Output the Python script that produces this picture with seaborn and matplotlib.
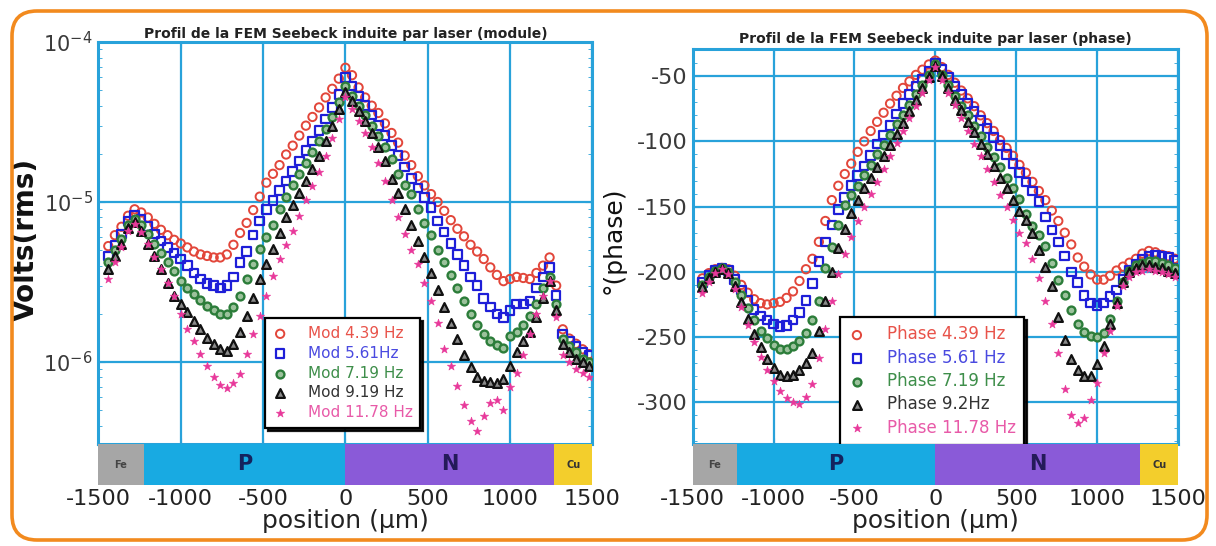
import numpy as np
import matplotlib
matplotlib.use("Agg")
import matplotlib.pyplot as plt
import seaborn as sns
from matplotlib.patches import FancyBboxPatch
from matplotlib.ticker import LogLocator, MultipleLocator, NullFormatter

sns.set_style("white")
plt.rcParams['font.family'] = ['DejaVu Sans']
plt.rcParams['mathtext.fontset'] = 'dejavusans'
plt.rcParams['axes.unicode_minus'] = False

# ---------------- data ----------------
positions = [-1440, -1400, -1360, -1320, -1280, -1240, -1200, -1160, -1120, -1080,
             -1040, -1000, -960, -920, -880, -840, -800, -760, -720, -680,
             -640, -600, -560, -520, -480, -440, -400, -360, -320, -280,
             -240, -200, -160, -120, -80, -40, 0,
             40, 80, 120, 160, 200, 240, 280, 320, 360, 400,
             440, 480, 520, 560, 600, 640, 680, 720, 760, 800,
             840, 880, 920, 960, 1000, 1040, 1080, 1120, 1160, 1200,
             1240, 1280, 1320, 1360, 1400, 1440, 1480]

# module, in microvolts
mod_439 = [5.3, 6.2, 7.0, 8.2, 9.0, 8.6, 8.0, 7.3, 6.7, 6.2, 5.8, 5.5, 5.2, 4.9, 4.7, 4.6, 4.5, 4.5, 4.7, 5.4,
           6.4, 7.4, 8.9, 10.8, 13.2, 15, 17, 19.8, 22.5, 26, 30, 34, 39, 45, 51, 59, 69,
           62, 52, 45, 40, 36, 31, 27, 23.5, 19.5, 17, 14.5, 12.7, 11.2, 10, 8.8, 7.7, 6.8, 6.1, 5.4, 4.9,
           4.4, 3.9, 3.5, 3.2, 3.3, 3.4, 3.35, 3.3, 3.6, 4.0, 4.5, 3.0, 1.6, 1.4, 1.3, 1.2, 1.12]
mod_561 = [4.6, 5.4, 6.3, 7.6, 8.3, 7.8, 7.0, 6.3, 5.7, 5.2, 4.8, 4.4, 4.0, 3.6, 3.3, 3.1, 3.0, 2.9, 3.0, 3.4,
           4.2, 4.9, 6.2, 7.6, 9.0, 10.2, 11.8, 13.5, 15.5, 18, 21, 24, 28, 33, 39, 47, 60,
           53, 46, 40, 35, 30, 26, 22.5, 19.5, 16.5, 14, 12.2, 10.7, 9.2, 7.6, 6.5, 5.5, 4.7, 4.0, 3.4, 3.0,
           2.5, 2.2, 2.0, 1.9, 2.1, 2.3, 2.3, 2.4, 2.9, 3.4, 3.9, 2.6, 1.5, 1.35, 1.25, 1.15, 1.1]
mod_719 = [4.2, 5.0, 5.9, 7.2, 7.8, 7.2, 6.3, 5.5, 4.8, 4.2, 3.7, 3.2, 2.9, 2.65, 2.45, 2.25, 2.1, 2.0, 2.0, 2.2,
           2.6, 3.3, 4.1, 5.1, 6.0, 7.2, 9.0, 10.8, 12.8, 15, 17.5, 20.5, 24, 28.5, 34, 42, 53,
           46, 40, 35, 30, 26, 22, 18.5, 15, 12.8, 11.2, 9.0, 7.4, 6.2, 5.0, 4.2, 3.5, 2.9, 2.4, 2.0, 1.7,
           1.5, 1.36, 1.28, 1.22, 1.45, 1.55, 1.7, 1.95, 2.3, 2.9, 3.4, 2.3, 1.4, 1.25, 1.15, 1.05, 1.0]
mod_919 = [3.8, 4.6, 5.5, 6.9, 7.5, 6.6, 5.5, 4.6, 3.8, 3.1, 2.6, 2.3, 2.05, 1.8, 1.6, 1.42, 1.3, 1.2, 1.17, 1.3,
           1.55, 1.95, 2.5, 3.3, 4.1, 5.1, 6.4, 8.1, 9.6, 11.4, 13.5, 16, 19.5, 24, 30, 38, 49,
           43, 37, 32, 27, 22, 18, 14, 11.3, 9.0, 7.2, 5.7, 4.5, 3.6, 2.8, 2.2, 1.75, 1.4, 1.1, 0.93, 0.8,
           0.76, 0.75, 0.74, 0.78, 0.95, 1.15, 1.35, 1.55, 1.9, 2.5, 3.2, 2.1, 1.3, 1.15, 1.05, 1.0, 0.95]
mod_1178 = [3.3, 4.2, 5.2, 6.6, 7.3, 6.5, 5.5, 4.5, 3.8, 3.1, 2.6, 2.0, 1.6, 1.35, 1.12, 0.95, 0.8, 0.72, 0.69, 0.74,
            0.84, 1.12, 1.5, 1.95, 2.6, 3.45, 4.4, 5.4, 6.6, 8.2, 10.3, 12.5, 15.5, 19.5, 25, 33, 45,
            38, 32, 27, 22, 17.5, 13.5, 10.3, 8.0, 6.3, 5.0, 4.1, 3.1, 2.4, 1.75, 1.2, 0.95, 0.71, 0.54, 0.43, 0.37,
            0.46, 0.55, 0.58, 0.5, 0.7, 0.85, 1.1, 1.5, 2.0, 2.6, 3.2, 1.9, 1.1, 1.0, 0.9, 0.85, 0.8]

# phase, in degrees
ph_439 = [-205, -201, -198, -197, -198, -203, -210, -216, -221, -224, -225, -224, -223, -220, -215, -207, -198, -190, -177, -161,
          -145, -134, -125, -117, -108, -100, -92, -85, -78, -71, -65, -59, -54, -49, -45, -41, -38,
          -43, -49, -55, -61, -67, -73, -80, -86, -92, -99, -105, -111, -118, -124, -131, -138, -145, -153, -161, -170,
          -179, -189, -196, -202, -206, -206, -203, -199, -196, -193, -190, -186, -184, -185, -187, -188, -190]
ph_561 = [-208, -203, -199, -197, -199, -206, -214, -222, -229, -234, -237, -240, -242, -241, -237, -231, -222, -209, -192, -177,
          -164, -152, -143, -134, -126, -119, -111, -102, -95, -88, -79, -71, -64, -58, -52, -46, -40,
          -45, -51, -58, -64, -71, -77, -84, -90, -97, -103, -110, -117, -124, -131, -138, -146, -158, -168, -177, -188,
          -200, -208, -218, -224, -226, -224, -219, -214, -206, -199, -194, -190, -188, -187, -188, -189, -191]
ph_719 = [-210, -204, -199, -197, -200, -208, -218, -228, -237, -245, -251, -256, -259, -259, -257, -253, -247, -237, -222, -197,
          -181, -164, -149, -141, -134, -126, -118, -110, -103, -95, -87, -80, -72, -64, -57, -49, -41,
          -49, -57, -65, -73, -80, -88, -96, -104, -112, -120, -128, -136, -144, -156, -165, -172, -180, -193, -206, -218,
          -229, -240, -246, -249, -250, -247, -236, -222, -208, -199, -195, -193, -192, -192, -193, -195, -197]
ph_92 = [-212, -205, -200, -198, -201, -211, -223, -236, -248, -258, -267, -274, -279, -280, -279, -275, -270, -262, -245, -222,
         -200, -182, -167, -155, -145, -136, -128, -120, -111, -103, -94, -86, -77, -68, -59, -51, -42,
         -50, -59, -68, -76, -85, -93, -102, -110, -119, -128, -136, -145, -153, -160, -170, -183, -196, -211, -235, -252,
         -267, -275, -280, -280, -271, -257, -240, -224, -208, -200, -197, -195, -195, -196, -197, -199, -201]
ph_1178 = [-216, -208, -201, -198, -202, -213, -227, -241, -254, -265, -275, -284, -291, -297, -300, -301, -296, -286, -266, -244,
           -222, -202, -186, -173, -161, -150, -140, -131, -121, -111, -101, -92, -82, -73, -63, -53, -43,
           -53, -63, -72, -82, -92, -102, -111, -121, -131, -141, -150, -160, -170, -178, -190, -205, -222, -240, -262, -290,
           -310, -316, -312, -298, -285, -262, -245, -226, -211, -204, -200, -199, -198, -199, -200, -202, -204]

mod_labels = ["Mod 4.39 Hz", "Mod 5.61Hz", "Mod 7.19 Hz", "Mod 9.19 Hz", "Mod 11.78 Hz"]
phase_labels = ["Phase 4.39 Hz", "Phase 5.61 Hz", "Phase 7.19 Hz", "Phase 9.2Hz", "Phase 11.78 Hz"]

band_names = ["Fe", "P", "N", "Cu"]
band_edges = [-1500, -1226, 0, 1268, 1500]
x_ticks = [-1500, -1000, -500, 0, 500, 1000, 1500]
phase_ticks = [-300, -250, -200, -150, -100, -50]

# ---------------- styles ----------------
GRID = '#28A2DA'
styles = [
    dict(marker='o', s=36, color='#E2463A', facecolor='none', edgecolor='#E2463A', linewidth=1.4),
    dict(marker='s', s=38, color='#1E1ED8', facecolor='none', edgecolor='#1E1ED8', linewidth=1.6),
    dict(marker='o', s=32, color='#2C7D3A', facecolor='#9CC29C', edgecolor='#2C7D3A', linewidth=1.7),
    dict(marker='^', s=40, color='#111111', facecolor='#8A8A8A', edgecolor='#111111', linewidth=1.6),
    dict(marker='*', s=40, color='#E8389A', facecolor='#E8389A', edgecolor='#E8389A', linewidth=0.4),
]
text_colors = ['#E8534A', '#4A4AE0', '#3E8E4A', '#333333', '#E85AA8']
band_colors = ['#A6A6A6', '#18AAE2', '#8A5AD8', '#F3CE2C']
band_text = [dict(fontsize=7, color='#444444'), dict(fontsize=15, color='#14235E'),
             dict(fontsize=15, color='#241A5A'), dict(fontsize=7, color='#333333')]

W, H = 1216, 546
fig = plt.figure(figsize=(W / 100, H / 100), dpi=100)

border = FancyBboxPatch((0.12, 0.06), 11.95, 5.29,
                        boxstyle="round,pad=0,rounding_size=0.25",
                        transform=fig.dpi_scale_trans, fill=False,
                        edgecolor='#F28A1E', linewidth=2.6)
fig.add_artist(border)


def px_rect(x0, x1, ytop, ybot):
    return [x0 / W, 1 - ybot / H, (x1 - x0) / W, (ybot - ytop) / H]


def style_main(ax, ylabelsize):
    ax.set_xlim(-1500, 1500)
    ax.set_xticks(x_ticks)
    ax.grid(True, which='major', color=GRID, linewidth=1.6)
    ax.set_axisbelow(True)
    for sp in ax.spines.values():
        sp.set_color(GRID)
        sp.set_linewidth(2.2)
        sp.set_visible(True)
    ax.tick_params(axis='x', which='both', direction='in', length=4, color=GRID,
                   labelbottom=False, top=True, bottom=True)
    ax.tick_params(axis='y', which='major', direction='in', length=5, color=GRID,
                   left=True, right=True, labelsize=ylabelsize, labelcolor='#3A3A3A', pad=4)
    ax.tick_params(axis='y', which='minor', direction='in', length=3, color=GRID,
                   left=True, right=True)


def draw_band(bax):
    for i, name in enumerate(band_names):
        e0, e1 = band_edges[i], band_edges[i + 1]
        bax.barh(0, e1 - e0, left=e0, height=1.0, color=band_colors[i], edgecolor='none')
        bax.text((e0 + e1) / 2, 0, name, ha='center', va='center', fontweight='bold', **band_text[i])
    bax.set_xlim(-1500, 1500)
    bax.set_ylim(-0.5, 0.5)
    bax.set_yticks([])
    bax.set_xticks(x_ticks)
    for sp in bax.spines.values():
        sp.set_visible(False)
    bax.tick_params(axis='x', length=0, labelsize=16, labelcolor='#222222', pad=3)
    bax.set_xlabel('position (µm)', fontsize=18, color='#222222', va='top')
    bax.xaxis.set_label_coords(0.5, -0.58)


def add_legend(ax, anchor, fontsize):
    leg = ax.legend(loc='upper left', bbox_to_anchor=anchor, frameon=True, fancybox=False,
                    edgecolor='black', framealpha=1, fontsize=fontsize,
                    shadow={'color': 'black', 'alpha': 0.9},
                    handletextpad=1.3, labelspacing=0.32, borderpad=0.5,
                    handlelength=1.0, borderaxespad=0)
    leg.get_frame().set_linewidth(1.6)
    for t, c in zip(leg.get_texts(), text_colors):
        t.set_color(c)
    leg.set_zorder(10)
    return leg


# ---------------- left: module ----------------
axL = fig.add_axes(px_rect(98.4, 592.4, 42, 444))
bandL = fig.add_axes(px_rect(98.4, 592.4, 444, 485))
mods = [mod_439, mod_561, mod_719, mod_919, mod_1178]
for vals, lab, st in zip(mods, mod_labels, styles):
    sns.scatterplot(x=positions, y=np.array(vals) * 1e-6, ax=axL, label=lab, zorder=3, **st)
axL.set_yscale('log')
axL.set_ylim(3.07e-7, 1e-4)
style_main(axL, 15)
axL.set_yticks([1e-6, 1e-5, 1e-4])
axL.yaxis.set_minor_locator(LogLocator(base=10, subs=np.arange(2, 10), numticks=20))
axL.yaxis.set_minor_formatter(NullFormatter())
axL.set_ylabel('Volts(rms)', fontsize=20, fontweight='bold', color='#111111')
axL.yaxis.set_label_coords(-0.118, 0.51)
axL.set_xlabel('')
axL.set_title('Profil de la FEM Seebeck induite par laser (module)', fontsize=10,
              fontweight='bold', color='#222222', pad=3)
add_legend(axL, (0.337, 0.313), 11)
draw_band(bandL)

# ---------------- right: phase ----------------
axR = fig.add_axes(px_rect(692.7, 1178, 48.8, 444))
bandR = fig.add_axes(px_rect(692.7, 1178, 444, 485))
phases = [ph_439, ph_561, ph_719, ph_92, ph_1178]
for vals, lab, st in zip(phases, phase_labels, styles):
    sns.scatterplot(x=positions, y=vals, ax=axR, label=lab, zorder=3, **st)
axR.set_ylim(-332, -29)
style_main(axR, 16)
axR.set_yticks(phase_ticks)
axR.yaxis.set_minor_locator(MultipleLocator(10))
axR.set_ylabel('°(phase)', fontsize=18, color='#111111')
axR.yaxis.set_label_coords(-0.139, 0.516)
axR.set_xlabel('')
axR.set_title('Profil de la FEM Seebeck induite par laser (phase)', fontsize=10,
              fontweight='bold', color='#222222', pad=4)
add_legend(axR, (0.304, 0.321), 12)
draw_band(bandR)

fig.savefig('out.png', dpi=100, facecolor='white')
